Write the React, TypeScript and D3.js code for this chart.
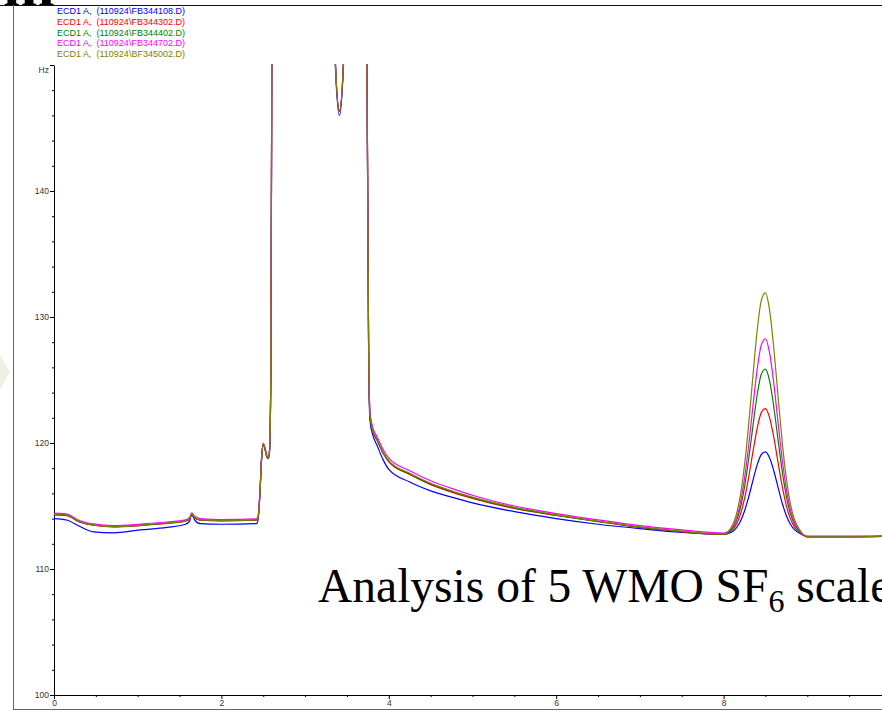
import React, { useEffect, useRef } from 'react'
import * as d3 from 'd3'

// retention time (min), shared by all five runs
const times = [
  0, 0.15, 0.31, 0.47, 0.71, 1.03, 1.35, 1.57, 1.62, 1.645, 1.68, 1.745, 2.0, 2.42, 2.44, 2.46, 2.48, 2.5, 2.52,
  2.545, 2.56, 2.575, 2.59, 2.6, 2.62, 3.0, 3.3, 3.36, 3.41, 3.46, 3.52, 3.7, 3.735, 3.76, 3.775, 3.81, 3.86, 3.93,
  4.0, 4.25, 4.5, 4.75, 5.0, 5.5, 6.0, 6.5, 7.0, 7.5, 8.0, 8.1, 8.15, 8.2, 8.25, 8.3, 8.35, 8.4, 8.45, 8.5, 8.55,
  8.6, 8.65, 8.7, 8.75, 8.8, 8.85, 8.9, 9.0, 9.5, 10.0,
]

// ECD signal (Hz) per run
const fb344108 = [
  114.0, 113.89, 113.37, 112.95, 112.87, 113.1, 113.3, 113.55, 113.8, 114.3, 113.9, 113.6, 113.55, 113.6, 114.0,
  115.9, 118.7, 119.9, 119.5, 118.85, 118.75, 119.3, 125, 145, 200, 400, 260, 150.2, 146.0, 150.2, 260, 300, 154, 126,
  121.8, 120.6, 119.8, 118.7, 117.9, 116.9, 116.2, 115.7, 115.25, 114.55, 114.0, 113.55, 113.2, 112.9, 112.75,
  112.94, 113.24, 113.77, 114.6, 115.72, 117.02, 118.24, 119.08, 119.29, 118.81, 117.78, 116.5, 115.24, 114.23,
  113.53, 113.1, 112.87, 112.6, 112.6, 112.6,
]
const fb344302 = [
  114.3, 114.24, 113.72, 113.47, 113.35, 113.45, 113.62, 113.8, 113.98, 114.38, 114.05, 113.88, 113.82, 113.88,
  114.18, 115.95, 118.75, 119.9, 119.55, 118.88, 118.78, 119.38, 125, 145, 200, 400, 260, 150.5, 146.3, 150.5, 260,
  300, 155, 127, 122.2, 120.9, 120.2, 119.2, 118.5, 117.5, 116.7, 116.1, 115.6, 114.8, 114.25, 113.75, 113.3, 112.95,
  112.75, 113.07, 113.52, 114.33, 115.59, 117.3, 119.27, 121.13, 122.41, 122.73, 122.0, 120.44, 118.48, 116.57,
  115.03, 113.96, 113.31, 112.96, 112.55, 112.55, 112.6,
]
const fb344402 = [
  114.33, 114.26, 113.74, 113.49, 113.36, 113.47, 113.64, 113.81, 113.99, 114.39, 114.08, 113.9, 113.84, 113.89,
  114.19, 115.98, 118.78, 119.93, 119.58, 118.89, 118.79, 119.39, 125, 145, 200, 400, 260, 150.5, 146.35, 150.5, 260,
  300, 155, 127, 122.25, 120.95, 120.25, 119.25, 118.55, 117.55, 116.75, 116.15, 115.65, 114.85, 114.28, 113.78,
  113.33, 112.98, 112.77, 113.19, 113.78, 114.84, 116.5, 118.75, 121.33, 123.77, 125.45, 125.87, 124.91, 122.86,
  120.29, 117.78, 115.76, 114.35, 113.51, 113.04, 112.55, 112.55, 112.6,
]
const fb344702 = [
  114.43, 114.36, 113.83, 113.58, 113.45, 113.56, 113.73, 113.9, 114.08, 114.45, 114.18, 114.0, 113.93, 113.98,
  114.28, 116.1, 118.9, 120.0, 119.65, 118.95, 118.85, 119.45, 125, 145, 200, 400, 260, 150.5, 146.4, 150.5, 260, 300,
  155, 127, 122.5, 121.2, 120.5, 119.5, 118.8, 117.8, 117.0, 116.4, 115.85, 115.0, 114.4, 113.9, 113.45, 113.1,
  112.85, 113.28, 113.98, 115.23, 117.19, 119.84, 122.9, 125.79, 127.77, 128.27, 127.13, 124.71, 121.67, 118.71,
  116.32, 114.65, 113.65, 113.11, 112.6, 112.6, 112.65,
]
const bf345002 = [
  114.35, 114.28, 113.75, 113.5, 113.37, 113.48, 113.65, 113.82, 114.0, 114.4, 114.1, 113.92, 113.85, 113.9, 114.2,
  116.0, 118.8, 119.95, 119.6, 118.9, 118.8, 119.4, 125, 145, 200, 400, 260, 150.5, 146.4, 150.5, 260, 300, 155, 127,
  122.3, 121.0, 120.3, 119.3, 118.6, 117.6, 116.8, 116.2, 115.7, 114.9, 114.3, 113.8, 113.35, 113.0, 112.78, 113.41,
  114.28, 115.82, 118.24, 121.52, 125.29, 128.85, 131.3, 131.91, 130.51, 127.52, 123.77, 120.11, 117.17, 115.11,
  113.87, 113.2, 112.55, 112.55, 112.6,
]

const runs = [fb344108, fb344302, fb344402, fb344702, bf345002]
const runLabels = [
  'ECD1 A,  (110924\\FB344108.D)',
  'ECD1 A,  (110924\\FB344302.D)',
  'ECD1 A,  (110924\\FB344402.D)',
  'ECD1 A,  (110924\\FB344702.D)',
  'ECD1 A,  (110924\\BF345002.D)',
]
const runColors = ['#0000ff', '#ff0000', '#008000', '#ff00ff', '#808000']

const xMajorTicks = [0, 2, 4, 6, 8]
const xMinorTicks = [0.5, 1, 1.5, 2.5, 3, 3.5, 4.5, 5, 5.5, 6.5, 7, 7.5, 8.5, 9, 9.5]
const yMajorTicks = [100, 110, 120, 130, 140, 150]
const yMinorTicks = [102, 104, 106, 108, 112, 114, 116, 118, 122, 124, 126, 128, 132, 134, 136, 138, 142, 144, 146, 148]

const W = 882
const H = 711
const sans = '"Liberation Sans", Arial, sans-serif'
const serif = '"Liberation Serif", "Times New Roman", serif'

export default function App() {
  const ref = useRef<SVGSVGElement>(null)

  useEffect(() => {
    const svg = d3.select(ref.current)
    svg.selectAll('*').remove()

    const x = d3.scaleLinear().domain([0, 10]).range([54, 891])
    const y = d3.scaleLinear().domain([100, 150]).range([695, 65])

    // slide frame + cut-off title glyph
    svg.append('text').text('m')
      .attr('x', 3).attr('y', 6)
      .attr('font-family', serif).attr('font-weight', 'bold').attr('font-size', 62)
    svg.append('line').attr('x1', 0).attr('x2', W).attr('y1', 5.5).attr('y2', 5.5).attr('stroke', '#111')
    svg.append('line').attr('x1', 13.5).attr('x2', 13.5).attr('y1', 5).attr('y2', 709.5).attr('stroke', '#666')
    svg.append('line').attr('x1', 13).attr('x2', W).attr('y1', 709.5).attr('y2', 709.5).attr('stroke', '#666')
    svg.append('path').attr('d', 'M0,355L10,372L0,390Z').attr('fill', '#f1eee4')

    svg.append('defs').append('clipPath').attr('id', 'plotClip')
      .append('rect').attr('x', 54).attr('y', 64).attr('width', 840).attr('height', 632)

    // axes
    const styleAxis = (g: any) => {
      g.select('.domain').attr('stroke', '#000')
      g.selectAll('line').attr('stroke', '#000')
      g.selectAll('text').attr('font-family', sans).attr('font-size', 8.5).attr('fill', '#333')
    }
    const gy = svg.append('g').attr('transform', 'translate(54,0)')
    gy.call(d3.axisLeft(y).tickValues(yMajorTicks).tickSize(4).tickSizeOuter(0).tickPadding(1)
      .tickFormat((d: any) => (d === 150 ? 'Hz' : String(d))))
    styleAxis(gy)
    gy.selectAll('text').filter((d: any) => d === 150).attr('dy', '0.9em')
    const gyMinor = svg.append('g').attr('transform', 'translate(54,0)')
    gyMinor.call(d3.axisLeft(y).tickValues(yMinorTicks).tickSize(2).tickSizeOuter(0).tickFormat(() => ''))
    gyMinor.select('.domain').remove()
    gyMinor.selectAll('line').attr('stroke', '#000')

    const gx = svg.append('g').attr('transform', 'translate(0,695)')
    gx.call(d3.axisBottom(x).tickValues(xMajorTicks).tickSize(4).tickSizeOuter(0).tickPadding(1))
    styleAxis(gx)
    const gxMinor = svg.append('g').attr('transform', 'translate(0,695)')
    gxMinor.call(d3.axisBottom(x).tickValues(xMinorTicks).tickSize(2).tickSizeOuter(0).tickFormat(() => ''))
    gxMinor.select('.domain').remove()
    gxMinor.selectAll('line').attr('stroke', '#000')

    // traces
    const line = d3.line<number>()
      .x((_, i) => x(times[i]))
      .y((d) => y(d))
      .curve(d3.curveMonotoneX)
    const plot = svg.append('g').attr('clip-path', 'url(#plotClip)')
    runs.forEach((vals, i) => {
      plot.append('path')
        .attr('d', line(vals))
        .attr('fill', 'none')
        .attr('stroke', runColors[i])
        .attr('stroke-width', 1.2)
    })

    // legend
    const legend = svg.append('g')
    runLabels.forEach((label, i) => {
      legend.append('text')
        .attr('x', 57).attr('y', 14 + i * 10.8)
        .attr('font-family', sans).attr('font-size', 9)
        .attr('fill', runColors[i])
        .style('white-space', 'pre')
        .text(label)
    })

    // slide caption over the chart
    const cap = svg.append('text')
      .attr('x', 318).attr('y', 602)
      .attr('font-family', serif).attr('font-size', 47.5).attr('fill', '#000')
    cap.append('tspan').text('Analysis of 5 WMO SF')
    cap.append('tspan').attr('font-size', 32).attr('dy', 10).text('6')
    cap.append('tspan').attr('dy', -10).style('white-space', 'pre').text(' scale')
  }, [])

  return (
    <svg ref={ref} width={W} height={H}
      style={{ position: 'absolute', left: 0, top: 0, background: '#fff', display: 'block' }} />
  )
}
